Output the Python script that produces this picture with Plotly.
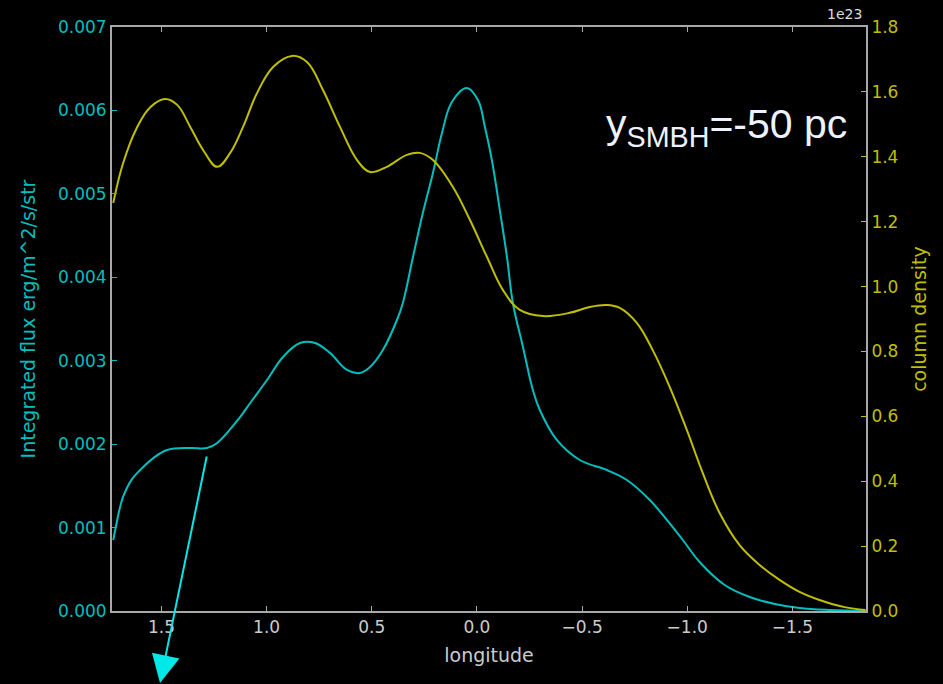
import plotly.graph_objects as go

# Integrated flux (left axis) vs longitude
flux_lon = [1.729, 1.715, 1.700, 1.682, 1.640, 1.601, 1.540, 1.473, 1.363, 1.283, 1.235, 1.126, 1.078, 0.998,
            0.922, 0.841, 0.770, 0.698, 0.618, 0.556, 0.508, 0.447, 0.380, 0.352,
            0.304, 0.257, 0.209, 0.166, 0.119, 0.048, -0.005, -0.038, -0.071, -0.109,
            -0.143, -0.171, -0.219, -0.266, -0.299, -0.380, -0.489, -0.618, -0.713, -0.822,
            -0.903, -0.979, -1.059, -1.178, -1.297, -1.416, -1.534, -1.677, -1.848]
flux_val = [0.000851, 0.001030, 0.001210, 0.001370, 0.001580, 0.001690, 0.001830, 0.001930, 0.001954, 0.001954,
            0.002014, 0.002325, 0.002493, 0.002769,
            0.003045, 0.003212, 0.003212, 0.003092, 0.002889, 0.002853, 0.002925, 0.003128, 0.003488, 0.003692,
            0.004243, 0.004770, 0.005250, 0.005729, 0.006101, 0.006269, 0.006125, 0.005801, 0.005406, 0.004806,
            0.004243, 0.003692, 0.003164, 0.002649, 0.002409, 0.002050, 0.001810, 0.001690, 0.001570, 0.001330,
            0.001091, 0.000851, 0.000587, 0.000312, 0.000168, 0.000084, 0.000036, 0.000012, 0.0]

# Column density (right axis, units of 1e23) vs longitude
col_lon = [1.729, 1.682, 1.615, 1.553, 1.482, 1.425, 1.363, 1.302, 1.235, 1.173,
           1.112, 1.045, 0.969, 0.879, 0.808, 0.732, 0.651, 0.570, 0.508, 0.428,
           0.333, 0.271, 0.209, 0.114, 0.033, -0.048, -0.124, -0.204, -0.314, -0.442,
           -0.537, -0.618, -0.679, -0.760, -0.836, -0.917, -0.998, -1.074, -1.154, -1.249,
           -1.344, -1.439, -1.534, -1.629, -1.748, -1.848]
col_val = [1.258, 1.381, 1.492, 1.553, 1.578, 1.560, 1.492, 1.421, 1.369, 1.412,
           1.492, 1.597, 1.677, 1.711, 1.692, 1.606, 1.492, 1.390, 1.353, 1.369,
           1.406, 1.412, 1.390, 1.307, 1.205, 1.091, 0.989, 0.928, 0.909, 0.919,
           0.937, 0.943, 0.934, 0.888, 0.804, 0.690, 0.558, 0.425, 0.302, 0.203,
           0.142, 0.096, 0.059, 0.034, 0.012, 0.003]

x_ticks = [1.5, 1.0, 0.5, 0.0, -0.5, -1.0, -1.5]
flux_ticks = [0.000, 0.001, 0.002, 0.003, 0.004, 0.005, 0.006, 0.007]
col_ticks = [0.0, 0.2, 0.4, 0.6, 0.8, 1.0, 1.2, 1.4, 1.6, 1.8]

CYAN = "#00bfbf"
YEL = "#bfbf00"
GRAY = "#a8a8a8"
FONT = "DejaVu Sans"

fig = go.Figure()
fig.add_trace(go.Scatter(x=flux_lon, y=flux_val, mode="lines",
                         line=dict(color=CYAN, width=2, shape="spline", smoothing=1.1),
                         yaxis="y", showlegend=False))
fig.add_trace(go.Scatter(x=col_lon, y=col_val, mode="lines",
                         line=dict(color=YEL, width=2, shape="spline", smoothing=1.1),
                         yaxis="y2", showlegend=False))

fig.update_layout(
    width=943, height=684,
    margin=dict(l=112, r=77, t=27, b=73),
    paper_bgcolor="black", plot_bgcolor="black",
    xaxis=dict(range=[1.735, -1.85], tickvals=x_ticks, tickformat=".1f",
               showgrid=False, zeroline=False, showline=True, linecolor=GRAY, linewidth=2,
               mirror="ticks", ticks="inside", ticklen=5, tickcolor=GRAY,
               tickfont=dict(family=FONT, size=17, color="#cccccc"),
               title=dict(text="longitude", font=dict(family=FONT, size=19, color="#cccccc"),
                          standoff=12)),
    yaxis=dict(range=[0, 0.007], tickvals=flux_ticks, tickformat=".3f",
               showgrid=False, zeroline=False, showline=True, linecolor=GRAY, linewidth=2,
               ticks="inside", ticklen=5, tickcolor=CYAN,
               tickfont=dict(family=FONT, size=17, color=CYAN),
               title=dict(text="Integrated flux erg/m^2/s/str",
                          font=dict(family=FONT, size=19, color=CYAN), standoff=17)),
    yaxis2=dict(range=[0, 1.8], tickvals=col_ticks, tickformat=".1f",
                overlaying="y", side="right",
                showgrid=False, zeroline=False, showline=True, linecolor=GRAY, linewidth=2,
                ticks="inside", ticklen=5, tickcolor=YEL,
                tickfont=dict(family=FONT, size=17, color=YEL),
                title=dict(text="column density", font=dict(family=FONT, size=19, color=YEL),
                           standoff=15)),
)

fig.add_annotation(xref="paper", yref="paper", x=0.997, y=1.022, xanchor="right", yanchor="middle",
                   text="1e23", showarrow=False, font=dict(family=FONT, size=14, color="#dddddd"))
fig.add_annotation(xref="paper", yref="paper", x=0.978, y=0.829, xanchor="right", yanchor="middle",
                   text="y<sub>SMBH</sub>=-50 pc", showarrow=False,
                   font=dict(family="Liberation Sans", size=41, color="#eef2ff"))
fig.add_annotation(xref="paper", yref="paper", x=0.0637, y=-0.125, text="",
                   showarrow=True, ax=47, ay=-229, arrowhead=2, arrowsize=2.8, arrowwidth=2,
                   arrowcolor="#00e8e8")

fig.write_html("out.html")
